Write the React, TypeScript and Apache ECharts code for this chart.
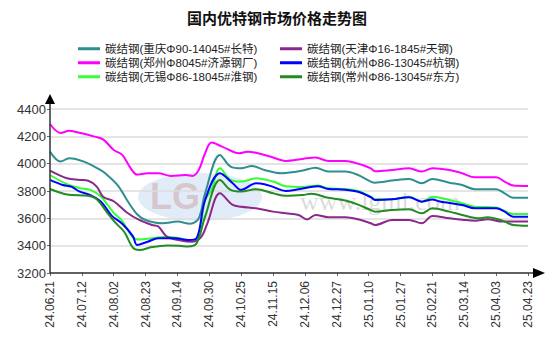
import React, { useEffect, useRef } from "react";
import * as echarts from "echarts";

const TITLE = "国内优特钢市场价格走势图";

// x tick labels, one every STEP trading days
const tickLabels = [
  "24.06.21", "24.07.12", "24.08.02", "24.08.23", "24.09.14", "24.09.30",
  "24.10.25", "24.11.15", "24.12.06", "24.12.27", "25.01.10", "25.01.27",
  "25.02.21", "25.03.14", "25.04.03", "25.04.23",
];
const STEP = 15;
const LAST_INDEX = STEP * (tickLabels.length - 1);

const Y_MIN = 3200;
const Y_MAX = 4400;
const Y_STEP = 200;

const names = [
  "碳结钢(重庆Φ90-14045#长特)",
  "碳结钢(郑州Φ8045#济源钢厂)",
  "碳结钢(无锡Φ86-18045#淮钢)",
  "碳结钢(天津Φ16-1845#天钢)",
  "碳结钢(杭州Φ86-13045#杭钢)",
  "碳结钢(常州Φ86-13045#东方)",
];
const colors = ["#2F8F8F", "#FF00FF", "#33FF33", "#8B288B", "#0000FF", "#228B22"];

// [trading-day index, price]
const chongqing: [number, number][] = [
  [0, 4088], [5, 4015], [9, 4040], [16, 4015], [23, 3960], [26, 3930], [32, 3840],
  [36, 3740], [41, 3630], [45, 3588], [53, 3564], [60, 3576], [66, 3560], [70, 3600],
  [73, 3783], [80, 4064], [85, 3978], [90, 3966], [95, 3983], [101, 3954], [109, 3930],
  [113, 3935], [119, 3950], [125, 3970], [131, 3942], [139, 3942], [145, 3917],
  [151, 3869], [153, 3861], [161, 3876], [169, 3888], [175, 3857], [180, 3888],
  [188, 3861], [194, 3844], [200, 3813], [210, 3813], [214, 3783], [218, 3751], [225, 3751],
];
const zhengzhou: [number, number][] = [
  [0, 4290], [5, 4225], [9, 4240], [15, 4222], [21, 4198], [25, 4178], [30, 4100],
  [34, 4064], [38, 3966], [41, 3920], [46, 3930], [51, 3930], [57, 3910], [64, 3917],
  [67, 3910], [70, 3954], [73, 4076], [76, 4154], [81, 4125], [89, 4076], [93, 4088],
  [98, 4076], [104, 4050], [111, 4020], [119, 4035], [125, 4045], [131, 4020],
  [139, 4020], [147, 3990], [151, 3966], [153, 3945], [161, 3954], [169, 3966],
  [175, 3942], [180, 3966], [188, 3954], [194, 3930], [200, 3900], [210, 3900],
  [214, 3869], [218, 3840], [225, 3837],
];
const wuxi: [number, number][] = [
  [0, 3917], [8, 3850], [14, 3820], [19, 3808], [24, 3758], [30, 3640], [34, 3580],
  [39, 3460], [42, 3445], [48, 3454], [55, 3466], [61, 3454], [67, 3435], [70, 3470],
  [73, 3734], [76, 3808], [80, 3966], [85, 3881], [90, 3869], [97, 3893], [105, 3869],
  [111, 3835], [119, 3830], [126, 3840], [131, 3820], [139, 3815], [145, 3800],
  [151, 3758], [153, 3740], [161, 3739], [169, 3758], [175, 3722], [180, 3758],
  [188, 3734], [194, 3710], [200, 3685], [210, 3680], [213, 3661], [218, 3632], [225, 3632],
];
const tianjin: [number, number][] = [
  [0, 3949], [8, 3893], [14, 3881], [18, 3875], [22, 3832], [25, 3758], [30, 3725],
  [36, 3645], [42, 3588], [48, 3551], [51, 3540], [55, 3466], [61, 3440], [67, 3429],
  [71, 3460], [74, 3560], [80, 3783], [86, 3698], [90, 3685], [97, 3673], [105, 3649],
  [111, 3637], [117, 3625], [121, 3592], [125, 3625], [131, 3608], [139, 3608],
  [145, 3593], [151, 3564], [153, 3551], [161, 3588], [169, 3588], [175, 3564],
  [180, 3617], [188, 3600], [195, 3588], [200, 3583], [206, 3593], [213, 3576], [225, 3576],
];
const hangzhou: [number, number][] = [
  [0, 3881], [6, 3844], [10, 3832], [14, 3795], [19, 3770], [24, 3722], [29, 3620],
  [34, 3560], [39, 3470], [41, 3405], [46, 3429], [51, 3454], [59, 3454], [65, 3442],
  [69, 3455], [73, 3734], [80, 3930], [86, 3857], [90, 3808], [97, 3857], [101, 3850],
  [105, 3830], [111, 3800], [117, 3813], [126, 3835], [131, 3815], [139, 3810],
  [145, 3795], [151, 3755], [153, 3734], [161, 3739], [169, 3755], [175, 3722],
  [180, 3738], [183, 3725], [188, 3712], [194, 3698], [200, 3673], [210, 3673],
  [214, 3649], [218, 3612], [225, 3612],
];
const changzhou: [number, number][] = [
  [0, 3815], [8, 3775], [18, 3765], [22, 3740], [27, 3640], [31, 3565], [35, 3500],
  [39, 3385], [42, 3368], [48, 3390], [55, 3402], [61, 3400], [65, 3393], [69, 3417],
  [73, 3612], [80, 3881], [85, 3808], [90, 3796], [97, 3813], [105, 3783], [111, 3765],
  [119, 3771], [123, 3780], [131, 3750], [139, 3730], [145, 3700], [151, 3660],
  [153, 3649], [161, 3661], [169, 3666], [175, 3637], [180, 3673], [188, 3649],
  [194, 3625], [202, 3600], [206, 3608], [213, 3583], [218, 3551], [225, 3546],
];
const seriesData = [chongqing, zhengzhou, wuxi, tianjin, hangzhou, changzhou];

// layout
const W = 554;
const H = 352;
const GL = 50;
const GT = 109;
const GR = 528;
const GB = 273;
const FONT = "'Liberation Sans', Arial, 'Noto Sans CJK SC', sans-serif";

export default function App() {
  const ref = useRef<HTMLDivElement>(null);
  useEffect(() => {
    document.body.style.margin = "0";
    if (!ref.current) return;
    const chart = echarts.init(ref.current, undefined, { renderer: "svg" });
    const legendCommon = {
      orient: "vertical" as const,
      icon: "rect",
      itemWidth: 22,
      itemHeight: 3,
      itemGap: 2.5,
      textStyle: { fontSize: 11.5, color: "#222", fontFamily: FONT },
      selectedMode: false,
    };
    chart.setOption({
      animation: false,
      backgroundColor: "#fff",
      title: {
        text: TITLE,
        left: "center",
        top: 5,
        textStyle: {
          fontSize: 15,
          fontWeight: "bold",
          color: "#111",
          fontFamily: "'Noto Sans CJK SC', sans-serif",
        },
      },
      legend: [
        { ...legendCommon, left: 73, top: 38, data: [names[0], names[1], names[2]] },
        { ...legendCommon, left: 275, top: 38, data: [names[3], names[4], names[5]] },
      ],
      grid: { left: GL, top: GT, right: W - GR, bottom: H - GB, containLabel: false },
      xAxis: {
        type: "value",
        min: 0,
        max: LAST_INDEX,
        interval: STEP,
        axisLine: { show: false },
        axisTick: { show: true, length: 3, lineStyle: { color: "#666" } },
        splitLine: { show: false },
        axisLabel: {
          rotate: 90,
          margin: 8,
          fontSize: 12,
          color: "#333",
          fontFamily: FONT,
          formatter: (v: number) => tickLabels[Math.round(v / STEP)] ?? "",
        },
      },
      yAxis: {
        type: "value",
        min: Y_MIN,
        max: Y_MAX,
        interval: Y_STEP,
        axisLine: { show: false },
        axisTick: { show: true, length: 3, lineStyle: { color: "#666" } },
        splitLine: { show: true, lineStyle: { color: "#dcdcdc", width: 1.5 } },
        axisLabel: {
          fontSize: 13,
          color: "#333",
          margin: 4,
          fontFamily: FONT,
          formatter: (v: number) => String(v),
        },
      },
      graphic: [
        {
          type: "ellipse",
          silent: true,
          z: 0,
          shape: { cx: 200, cy: 197, rx: 62, ry: 24 },
          style: { fill: "rgba(150,185,230,0.28)" },
        },
        {
          type: "text",
          silent: true,
          z: 0,
          x: 150,
          y: 178,
          style: {
            text: "LG",
            font: "bold 36px 'Liberation Sans', Arial",
            fill: "rgba(200,150,150,0.45)",
          },
        },
        {
          type: "text",
          silent: true,
          z: 0,
          x: 300,
          y: 188,
          style: {
            text: "www.lgmi.com",
            font: "26px 'Liberation Serif', serif",
            fill: "rgba(150,150,150,0.35)",
          },
        },
        {
          type: "line",
          silent: true,
          z: 10,
          shape: { x1: GL, y1: GB, x2: GL, y2: 100 },
          style: { stroke: "#333", lineWidth: 1.5 },
        },
        {
          type: "polygon",
          silent: true,
          z: 10,
          shape: { points: [[GL - 5, 104], [GL + 5, 104], [GL, 94]] },
          style: { fill: "#000" },
        },
        {
          type: "line",
          silent: true,
          z: 10,
          shape: { x1: GL, y1: GB, x2: 535, y2: GB },
          style: { stroke: "#333", lineWidth: 1.5 },
        },
        {
          type: "polygon",
          silent: true,
          z: 10,
          shape: { points: [[533, GB - 5], [533, GB + 5], [545, GB]] },
          style: { fill: "#000" },
        },
      ],
      series: seriesData.map((d, i) => ({
        name: names[i],
        type: "line",
        data: d,
        smooth: 0.35,
        showSymbol: false,
        symbol: "none",
        color: colors[i],
        lineStyle: { width: 2, color: colors[i] },
        z: 3,
      })),
    });
    return () => chart.dispose();
  }, []);
  return <div ref={ref} style={{ width: W, height: H }} />;
}
